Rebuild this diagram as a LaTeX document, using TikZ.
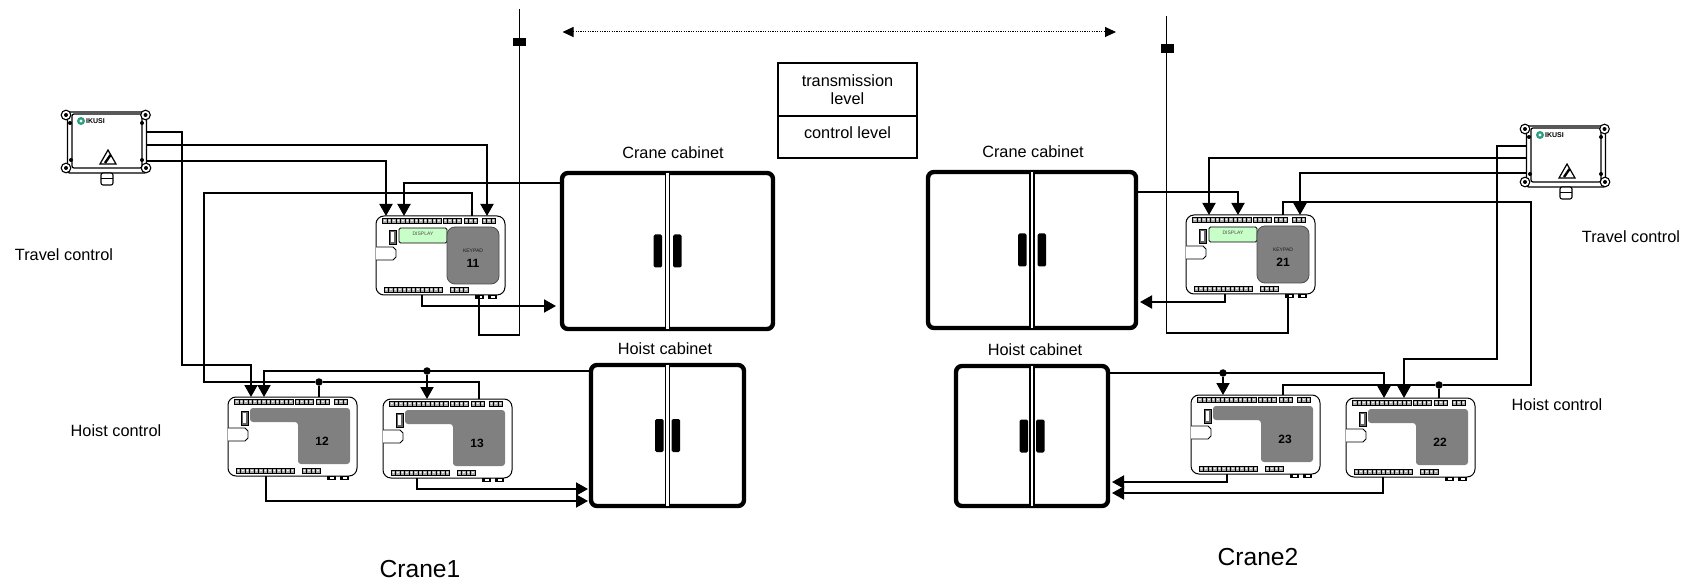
\documentclass[tikz,border=0pt]{standalone}
\usepackage{fontspec}
\setmainfont{Liberation Sans}
\usetikzlibrary{positioning, arrows.meta}

\definecolor{keygray}{HTML}{808080}
\definecolor{dispgreen}{HTML}{C8FFC8}
\definecolor{logogreen}{HTML}{2E9E83}

\tikzset{
        lbl/.style={inner sep=0pt, font=\fontsize{16.3}{18}\selectfont},
        crane/.style={inner sep=0pt, font=\fontsize{24.6}{26}\selectfont},
        bigtip/.tip={Triangle[width=13pt,length=12pt]},
        wire/.style={draw, line width=1.9pt, line join=miter},
        thinwire/.style={draw, line width=1.3pt},
        feed/.style={wire, -bigtip},
        junction/.style={circle, fill=black, inner sep=0pt, minimum size=7.5pt, outer sep=0pt},
        railblock/.style={rectangle, fill=black, inner sep=0pt, minimum width=13pt, minimum height=8.5pt, outer sep=0pt},
        leveltop/.style={draw, line width=1.3pt, inner sep=0pt, align=center, minimum width=139pt, outer sep=0pt,
                font=\fontsize{16.3}{18}\selectfont},
        cabinet/.style={draw, line width=4.4pt, rounded corners=6pt, inner sep=0pt, outer sep=0pt},
        handle/.style={fill=black, rounded corners=1.5pt, inner sep=0pt, minimum width=8.5pt, minimum height=33pt, outer sep=0pt},
        plcbody/.style={draw, fill=white, line width=1pt, rounded corners=8pt, inner sep=0pt, outer sep=0pt,
                minimum width=129pt, minimum height=79pt},
        portcell/.style={draw=black, fill=gray!70, line width=.5pt},
        ikbox/.style={draw, fill=white, line width=1.2pt, rounded corners=2pt, inner sep=0pt, outer sep=0pt,
                minimum width=79pt, minimum height=61pt},
        screw/.style={draw, fill=white, line width=1.1pt},
        pics/plctravel/.style={code={
                \plcbase
                \node[draw, fill=dispgreen, line width=.8pt, rounded corners=1.5pt, inner sep=0pt, minimum width=48pt, minimum height=15pt,
                        text=black!70, font=\fontsize{5}{5}\selectfont] (-disp) at (47,19.5) {\raisebox{3pt}{DISPLAY}};
                \node[draw=black!70, fill=keygray, line width=.8pt, rounded corners=8pt, inner sep=0pt, minimum width=52pt, minimum height=57pt] (-keys) at (97,39.5) {};
                \node[inner sep=0pt, text=black!90, font=\fontsize{5}{5}\selectfont] (-keyt) at (97,35) {KEYPAD};
                \node[inner sep=0pt, font=\bfseries\fontsize{12}{12}\selectfont] (-num) at (97,47) {#1};
        }},
        pics/plchoist/.style={code={
                \plcbase
                \fill[keygray, rounded corners=3pt] (22,11) -- (122,11) -- (122,67) -- (70,67) -- (70,25) -- (22,25) -- cycle;
                \node[inner sep=0pt, font=\bfseries\fontsize{12}{12}\selectfont] (-num) at (94,44) {#1};
        }},
        pics/ikusi/.style={code={
                \node[ikbox] (-box) at (0,0) {};
                \draw[line width=1.2pt, rounded corners=2pt] (-35,-28.5) rectangle (35,25.5);
                \foreach \sx/\sy in {-41/-27.5, 38.5/-27.5, -41/25.5, 39/25.5} {
                        \draw[screw] (\sx,\sy) circle (4.8pt);
                        \fill (\sx,\sy) circle (2pt);
                }
                \foreach \sx/\sy in {-37/-19.5, 35/-19.5, -36/17.5, 35/17.5}
                        \fill (\sx,\sy) circle (2pt);
                \fill[logogreen] (-26,-21.5) circle (4pt);
                \fill[white] (-26,-21.5) circle (1.6pt);
                \node[inner sep=0pt, font=\bfseries\fontsize{7}{7}\selectfont] (-logo) at (-11.5,-21.5) {IKUSI};
                \draw[line width=1.2pt, line join=miter] (1,7.5) -- (-7,21.5) -- (9,21.5) -- cycle;
                \draw[line width=2.4pt] (3.5,12.5) -- (-2,20.5);
                \draw[fill=white, line width=1.1pt, rounded corners=2pt] (-6,30.5) rectangle (6,42.5);
                \draw[line width=.8pt] (-6,36) -- (6,36);
        }}
}

\newcommand{\portrow}[3]{
        \foreach \k in {1,...,#3} {
                \draw[portcell] ({#1+(\k-1)*4.5},#2) rectangle +(4.5,5);
                \fill[white] ({#1+(\k-1)*4.5+2.25},#2+2.5) circle (1pt);
        }
}
\newcommand{\plcfoot}[1]{
        \fill (#1,79) rectangle +(9,4);
        \fill[white] (#1+2.5,80) rectangle +(4,2);
}
\newcommand{\plcbase}{
        \node[plcbody] (-body) at (64.5,39.5) {};
        \portrow{6.5}{2}{13}
        \portrow{67}{2}{4}
        \portrow{88}{2}{3}
        \portrow{106}{2}{3}
        \portrow{8}{71}{13}
        \portrow{74}{71}{4}
        \plcfoot{99}
        \plcfoot{112}
        \draw[line width=.8pt, fill=black!60] (13,14) rectangle (20,28);
        \fill[white] (15,16) rectangle (18,26);
        \draw[fill=white, line width=.9pt] (0,31) -- (17,31) -- (20,34) -- (20,41) -- (17,44) -- (0,44);
}
\newcommand{\cabinetbox}[6]{
        \node[cabinet, minimum width=#4pt, minimum height=#5pt] (#1) at (#2,#3) {};
        \draw[double, double distance=2.4pt, line width=1.6pt] (#1.north) -- (#1.south);
        \node[handle] (#1-l) [left=#6pt of #1.center] {};
        \node[handle] (#1-r) [right=#6pt of #1.center] {};
}

\begin{document}
\begin{tikzpicture}[x=1pt, y=-1pt]
        \useasboundingbox (0,0) rectangle (1690,585);

        \coordinate (span1) at (562.5,32);
        \coordinate (span2) at (1116,32);
        \draw[line width=1pt, dash pattern=on 1.2pt off 1.2pt, {Triangle[width=10pt,length=11pt]}-{Triangle[width=10pt,length=11pt]}] (span1) -- (span2);

        \node[leveltop, minimum height=53pt] (lvl1) at (847.5,89.5) {transmission\\level};
        \node[leveltop, minimum height=42pt, text depth=9pt] (lvl2) [below=0pt of lvl1] {control level};

        \cabinetbox{cc1}{667.5}{251}{211}{156}{5.5}
        \cabinetbox{hc1}{667.5}{435.5}{153}{141}{4}
        \cabinetbox{cc2}{1032}{250}{208}{156}{5.5}
        \cabinetbox{hc2}{1032}{436}{152}{140}{4}

        \pic (ik1) at (107,142.5) {ikusi};
        \pic (ik2) at (1566,156.5) {ikusi};

        \pic (c11) at (376,216) {plctravel=11};
        \pic (c12) at (228,397) {plchoist=12};
        \pic (c13) at (383,399) {plchoist=13};
        \pic (c21) at (1186,215) {plctravel=21};
        \pic (c23) at (1191,395) {plchoist=23};
        \pic (c22) at (1346,398) {plchoist=22};

        \node[railblock] (rb1) at (519,42) {};
        \node[railblock] (rb2) at (1167,48.5) {};
        \coordinate (rt1) at (519.5,9);
        \coordinate (rt2) at (1166.5,16);
        \coordinate (re1) at (519.5,335);
        \coordinate (re2) at (1166.5,333);
        \draw[wire] (rt1) -- (rt1 |- rb1.north);
        \draw[wire] (rt2) -- (rt2 |- rb2.north);
        \draw[thinwire] (rt1 |- rb1.south) -- (re1) -| ([xshift=103pt]c11-body.south west);
        \draw[thinwire] (rt2 |- rb2.south) -- (re2) -| ([xshift=102pt]c21-body.south west);

        \coordinate (w1) at (182,365);
        \coordinate (w2) at (204,193);
        \coordinate (w5) at (1497,359);
        \coordinate (w6) at (1531,202);
        \node[junction] (d12) at (319,382) {};
        \node[junction] (d13) at (427,371) {};
        \node[junction] (d22) at (1439,385) {};
        \node[junction] (d23) at (1223,373) {};

        \draw[feed] ([yshift=10.5pt]ik1-box.east) -| (w1) -| ([xshift=23pt]c12-body.north west);
        \draw[feed] ([yshift=-2.5pt]ik1-box.east) -| ([xshift=111pt]c11-body.north west);
        \draw[feed] ([yshift=-18.5pt]ik1-box.east) -| ([xshift=10pt]c11-body.north west);
        \draw[feed] ([yshift=68pt]cc1.west) -| ([xshift=28pt]c11-body.north west);
        \draw[thinwire] ([xshift=96pt]c11-body.north west) |- (w2) |- (d12) -| ([xshift=96pt]c13-body.north west);
        \draw[wire] (d12) -- (d12 |- c12-body.north);
        \draw[feed] ([yshift=64.5pt]hc1.west) -| ([xshift=36pt]c12-body.north west);
        \draw[feed] (d13) -- (d13 |- c13-body.north);
        \draw[feed] ([xshift=46pt]c11-body.south west) |- ([xshift=-6pt,yshift=-55pt]cc1.west);
        \draw[feed] ([xshift=34pt]c13-body.south west) |- ([xshift=-3pt,yshift=-53.5pt]hc1.west);
        \draw[feed] ([xshift=38pt]c12-body.south west) |- ([xshift=-3pt,yshift=-65.5pt]hc1.west);

        \draw[feed] ([yshift=10.5pt]ik2-box.west) -| (w5) -| ([xshift=58pt]c22-body.north west);
        \draw[feed] ([yshift=-1.5pt]ik2-box.west) -| ([xshift=23pt]c21-body.north west);
        \draw[feed] ([yshift=-16.5pt]ik2-box.west) -| ([xshift=114pt]c21-body.north west);
        \draw[feed] ([yshift=58pt]cc2.east) -| ([xshift=52pt]c21-body.north west);
        \draw[thinwire] ([xshift=97pt]c21-body.north west) |- (w6) |- (d22) -| ([xshift=92pt]c23-body.north west);
        \draw[wire] (d22) -- (d22 |- c22-body.north);
        \draw[feed] ([yshift=63pt]hc2.east) -| ([xshift=38pt]c22-body.north west);
        \draw[feed] (d23) -- (d23 |- c23-body.north);
        \draw[feed] ([xshift=39pt]c21-body.south west) |- ([xshift=4pt,yshift=-52pt]cc2.east);
        \draw[feed] ([xshift=36pt]c23-body.south west) |- ([xshift=4pt,yshift=-46pt]hc2.east);
        \draw[feed] ([xshift=37pt]c22-body.south west) |- ([xshift=4pt,yshift=-57pt]hc2.east);

        \node[lbl] (tc1) at (64,255) {Travel control};
        \node[lbl] (hc1t) at (116,431) {Hoist control};
        \node[lbl] (tc2) at (1631,237) {Travel control};
        \node[lbl] (hc2t) at (1557,405) {Hoist control};
        \node[lbl] (cc1t) at (673,153) {Crane cabinet};
        \node[lbl] (cc2t) at (1033,152) {Crane cabinet};
        \node[lbl] (hc1l) at (665,349) {Hoist cabinet};
        \node[lbl] (hc2l) at (1035,350) {Hoist cabinet};
        \node[crane] (cr1) at (420,569) {Crane1};
        \node[crane] (cr2) at (1258,557) {Crane2};
\end{tikzpicture}
\end{document}
